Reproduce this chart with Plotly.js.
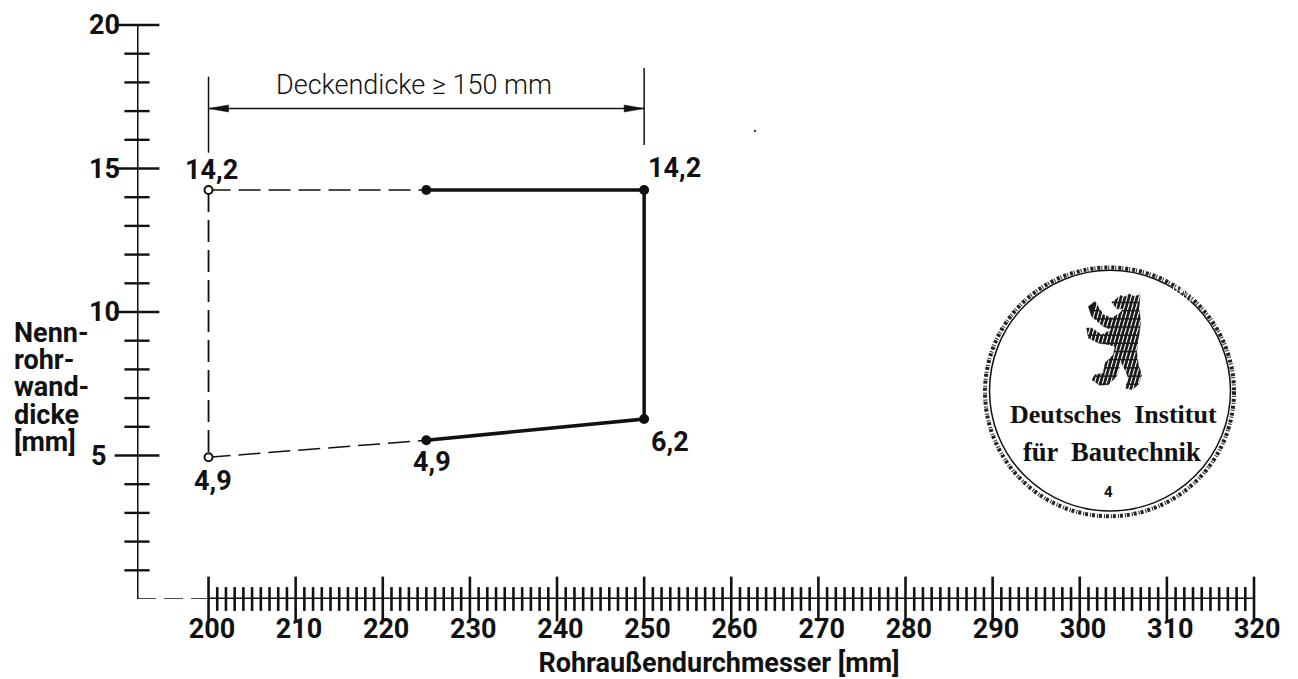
<!DOCTYPE html>
<html><head><meta charset="utf-8">
<script src="https://cdn.plot.ly/plotly-3.0.1.min.js"></script>
<style>html,body{margin:0;padding:0;background:#fff}#c{width:1298px;height:679px}</style></head>
<body><div id="c"></div>
<script>
// ---- data ----
const solidX = [225, 250, 250, 225];
const solidY = [14.25, 14.25, 6.27, 5.53];
const dashedTopX = [200, 225];
const dashedTopY = [14.25, 14.25];
const dashedLeftX = [200, 200];
const dashedLeftY = [14.25, 4.94];
const dashedLowX = [200, 225];
const dashedLowY = [4.94, 5.53];
const openX = [200, 200];
const openY = [14.25, 4.94];
const xMajor = [200,210,220,230,240,250,260,270,280,290,300,310,320];
const xMinor = [201,202,203,204,205,206,207,208,209,211,212,213,214,215,216,217,218,219,221,222,223,224,225,226,227,228,229,231,232,233,234,235,236,237,238,239,241,242,243,244,245,246,247,248,249,251,252,253,254,255,256,257,258,259,261,262,263,264,265,266,267,268,269,271,272,273,274,275,276,277,278,279,281,282,283,284,285,286,287,288,289,291,292,293,294,295,296,297,298,299,301,302,303,304,305,306,307,308,309,311,312,313,314,315,316,317,318,319];
const yMajor = [5,10,15,20];
const yMinor = [1,2,3,4,6,7,8,9,11,12,13,14,16,17,18,19];
const xLabels = ['200','210','220','230','240','250','260','270','280','290','300','310','320'];
const yLabels = ['5\u00a0\u00a0','10','15','20'];
const xOrigin = 191.79;
const dimLeftY = [18.2, 15.55];
const dimRightY = [18.5, 15.82];
const dimArrowX = [200, 250];
const dimArrowY = [17.09, 17.09];
const pointLabels = ['14,2','14,2','4,9','4,9','6,2'];
const pointLabelX = [200,250,200,225,250];
const pointLabelY = [14.25,14.25,4.94,5.53,6.27];
const pointLabelDx = [3,30,4,6,26];
const pointLabelDy = [20,22,-24,-22,-23];
const yTitleLines = ['Nenn-','rohr-','wand-','dicke','[mm]'];

// ---- frame ----
const W=1298,H=679,mL=137,mR=44,mT=25,mB=79.5;
const px=x=>(x-mL)/(W-mL-mR), py=y=>1-(y-mT)/(H-mT-mB);
const FONT='Roboto,sans-serif';
const INK='#111';
const SZ=27;
const dx=v=>mL+(v-xOrigin)/(320-xOrigin)*(W-mL-mR), dy=v=>H-mB-v/20*(H-mT-mB);

function line(x,y,w,dash){return {x,y,mode:'lines',type:'scatter',hoverinfo:'skip',line:{color:INK,width:w,dash:dash||'solid'},showlegend:false};}
function tick(x,y,sym,size,w){return {x,y,mode:'markers',type:'scatter',hoverinfo:'skip',showlegend:false,cliponaxis:false,marker:{symbol:sym,size,color:INK,line:{color:INK,width:w}}};}

const data=[
 line([xOrigin,xOrigin],[0,20],3),
 Object.assign(line([xOrigin,200],[0,0],1.5,'19px,8px'),{cliponaxis:false}),
 Object.assign(line([200,320],[0,0],2.8),{cliponaxis:false}),
 tick(xMinor,xMinor.map(()=>0),'line-ns',17,2.6),
 tick(xMajor,xMajor.map(()=>0),'line-ns',32,2.6),
 tick(yMinor.map(()=>xOrigin),yMinor,'line-ew',18,2.4),
 tick(yMajor.map(()=>xOrigin),yMajor,'line-ew',32,2.4),
 line(dashedTopX,dashedTopY,1.5,'22px,8px'),
 line(dashedLeftX,dashedLeftY,1.8,'22px,8px'),
 line(dashedLowX,dashedLowY,1.5,'22px,8px'),
 line(solidX,solidY,3.5),
 {x:solidX,y:solidY,mode:'markers',type:'scatter',hoverinfo:'skip',showlegend:false,marker:{size:10,color:INK}},
 {x:openX,y:openY,mode:'markers',type:'scatter',hoverinfo:'skip',showlegend:false,marker:{size:8,color:'#fff',line:{color:INK,width:2}}},
 line([200,200],dimLeftY,1.5),
 line([250,250],dimRightY,1.5),
 line(dimArrowX,dimArrowY,1.5)
];

const annotations=[];
const bold={family:FONT,size:SZ,color:INK,weight:'bold'};
pointLabels.forEach((t,i)=>annotations.push({x:pointLabelX[i],y:pointLabelY[i],xref:'x',yref:'y',xanchor:'center',yanchor:'middle',text:t,showarrow:false,xshift:pointLabelDx[i],yshift:pointLabelDy[i],font:bold}));
yTitleLines.forEach((t,i)=>annotations.push({x:px(12),y:py(333+i*27.3),xref:'paper',yref:'paper',xanchor:'left',yanchor:'middle',text:t,showarrow:false,font:bold}));
annotations.push({x:px(413.5),y:py(85),xref:'paper',yref:'paper',xanchor:'center',yanchor:'middle',text:'Deckendicke ≥ 150 mm',showarrow:false,font:{family:FONT,size:27,color:INK,weight:300}});
// stamp text
const sx=1110, sy=391;
annotations.push({x:px(1113),y:py(415),xref:'paper',yref:'paper',xanchor:'center',yanchor:'middle',text:'Deutsches  Institut',showarrow:false,font:{family:'"Liberation Serif",serif',size:26,color:INK,weight:'bold'}});
annotations.push({x:px(1112),y:py(452),xref:'paper',yref:'paper',xanchor:'center',yanchor:'middle',text:'für  Bautechnik',showarrow:false,font:{family:'"Liberation Serif",serif',size:26.5,color:INK,weight:'bold'}});
annotations.push({x:px(1108),y:py(492),xref:'paper',yref:'paper',xanchor:'center',yanchor:'middle',text:'4',showarrow:false,font:{family:FONT,size:15,color:INK,weight:'bold'}});

// decoration shapes
function circ(cx,cy,r,w,dash,col){return {type:'circle',xref:'paper',yref:'paper',x0:px(cx-r),x1:px(cx+r),y0:py(cy+r),y1:py(cy-r),line:{color:col||INK,width:w,dash:dash||'solid'},fillcolor:'rgba(0,0,0,0)'};}
function poly(pts,col){return {type:'path',xref:'paper',yref:'paper',path:pts.map((p,i)=>(i?'L':'M')+px(p[0])+','+py(p[1])).join(' ')+' Z',fillcolor:col,line:{color:col,width:0.5}};}
const bearCrop=[[125,52],[140,42],[150,32],[165,36],[178,28],[192,35],[210,30],[207,70],[212,110],[206,160],[200,200],[205,240],[215,270],[205,300],[185,315],[165,310],[175,280],[165,255],[150,225],[150,240],[140,275],[115,300],[90,302],[65,285],[75,270],[100,265],[105,235],[130,210],[135,185],[115,180],[85,175],[55,160],[50,130],[65,130],[95,150],[125,135],[100,125],[65,95],[55,65],[75,50],[100,90],[125,100],[150,85],[160,72],[140,72]];
const ax0=dx(200), ax1=dx(250), ay=dy(dimArrowY[0]);
const shapes=[
 circ(sx-0.5,sy+1.2,124.5,4,'3px,1px,1px,2px','#222'),
 circ(sx,sy,120.5,1.5),
 poly(bearCrop.map(p=>[1070+p[0]/3,285+p[1]/3]),'#1a1a1a'),
 circ(755,131,0.8,1),
 poly([[ax0,ay],[ax0+20,ay-3.5],[ax0+20,ay+3.5]],INK),
 poly([[ax1,ay],[ax1-20,ay-3.5],[ax1-20,ay+3.5]],INK)
];
for(let i=0;i<24;i++){const x0=1072+i*4, y0=392;
 shapes.push({type:'line',xref:'paper',yref:'paper',x0:px(x0),y0:py(y0),x1:px(x0+30),y1:py(y0-105),line:{color:'#fff',width:1.1,dash:'7px,1.5px'}});}

const layout={
 width:W,height:H,paper_bgcolor:'#fff',plot_bgcolor:'#fff',showlegend:false,
 margin:{l:mL,r:mR,t:mT,b:mB,pad:0},
 xaxis:{range:[xOrigin,320],showgrid:false,zeroline:false,showline:false,ticks:'',tickmode:'array',tickvals:xMajor,ticktext:xLabels.map(s=>'\u00a0'+s),
   ticklabelstandoff:11,tickfont:bold,
   title:{text:'\u200b\u00a0\u00a0\u00a0\u00a0\u00a0\u00a0\u00a0Rohraußendurchmesser [mm]',standoff:9,font:bold}},
 yaxis:{range:[0,20],showgrid:false,zeroline:false,showline:false,ticks:'',tickmode:'array',tickvals:yMajor,ticktext:yLabels,
   ticklabelstandoff:16,tickfont:bold},
 annotations,shapes
};
Plotly.newPlot('c',data,layout,{displayModeBar:false,staticPlot:true});
</script></body></html>
